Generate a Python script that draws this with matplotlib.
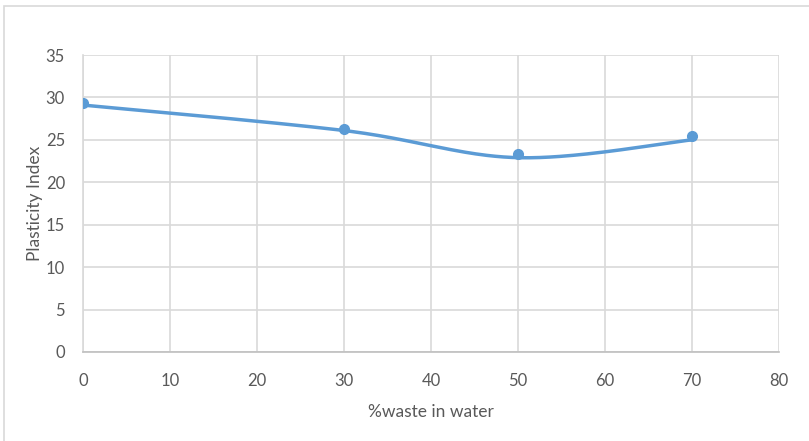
import numpy as np
import matplotlib
matplotlib.use("Agg")
import matplotlib.pyplot as plt
from matplotlib.patches import Rectangle

# Data
waste_pct = [0, 30, 50, 70]
plasticity_index = [29.4, 26.3, 23.3, 25.5]
curve_y = [29.1, 26.1, 22.9, 25.0]   # drawn smooth line (slightly below markers)
x_ticks = [0, 10, 20, 30, 40, 50, 60, 70, 80]
y_ticks = [0, 5, 10, 15, 20, 25, 30, 35]

plt.rcParams['font.family'] = ['Lato', 'DejaVu Sans']

def excel_smooth(xs, ys, n=60):
    xs = np.asarray(xs, float); ys = np.asarray(ys, float)
    px = np.concatenate([[xs[0]], xs, [xs[-1]]])
    py = np.concatenate([[ys[0]], ys, [ys[-1]]])
    outx, outy = [], []
    t = np.linspace(0, 1, n)
    for i in range(1, len(px) - 2):
        p0 = np.array([px[i], py[i]]); p3 = np.array([px[i+1], py[i+1]])
        c1 = p0 + (np.array([px[i+1], py[i+1]]) - np.array([px[i-1], py[i-1]])) / 6
        c2 = p3 - (np.array([px[i+2], py[i+2]]) - np.array([px[i], py[i]])) / 6
        b = ((1-t)**3)[:, None]*p0 + (3*(1-t)**2*t)[:, None]*c1 + (3*(1-t)*t**2)[:, None]*c2 + (t**3)[:, None]*p3
        outx.extend(b[:, 0]); outy.extend(b[:, 1])
    return np.array(outx), np.array(outy)

fig = plt.figure(figsize=(8.09, 4.41), dpi=100)
fig.patches.append(Rectangle((3.5/809, -0.1), 1.2, 1 - 5.5/441 + 0.1, transform=fig.transFigure,
                             fill=False, edgecolor='#d9d9d9', linewidth=1.2))
ax = fig.add_axes([83/809, 1 - 352/441, (779-83)/809, (352-55)/441])

sx, sy = excel_smooth(waste_pct, curve_y)
ax.plot(sx, sy, color='#5b9bd5', linewidth=2.5, solid_capstyle='round', zorder=3)
ax.plot(waste_pct, plasticity_index, 'o', color='#5b9bd5', markersize=7, zorder=4)

ax.set_xlim(0, 80)
ax.set_ylim(0, 35)
ax.set_xticks(x_ticks)
ax.set_yticks(y_ticks)
ax.grid(True, color='#d9d9d9', linewidth=1.2)
ax.set_axisbelow(True)
for s in ['top', 'right']:
    ax.spines[s].set_visible(False)
ax.spines['left'].set_color('#d9d9d9')
ax.spines['left'].set_linewidth(1.2)
ax.spines['bottom'].set_color('#bfbfbf')
ax.spines['bottom'].set_linewidth(1.2)
ax.tick_params(axis='both', length=0, labelsize=12, labelcolor='#595959')
ax.tick_params(axis='x', pad=15)
ax.tick_params(axis='y', pad=13)
ax.set_xlabel('%waste in water', fontsize=12.5, color='#595959', labelpad=11)
ax.set_ylabel('Plasticity Index', fontsize=12.5, color='#595959', labelpad=2)

fig.savefig('out.png', dpi=100)
